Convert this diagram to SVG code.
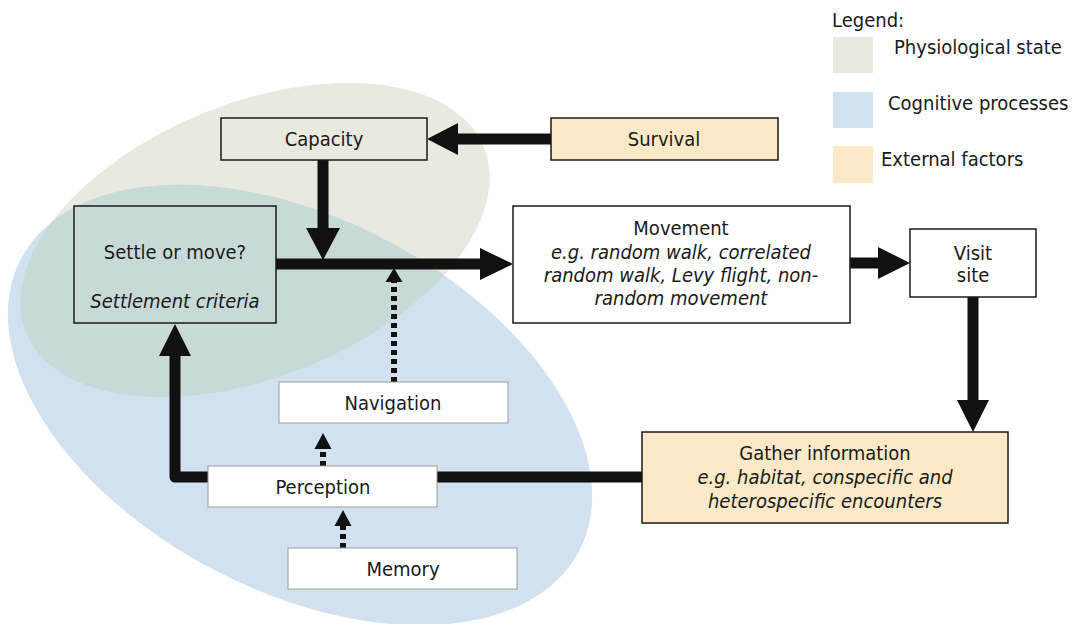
<svg xmlns="http://www.w3.org/2000/svg" width="1074" height="624" viewBox="0 0 1074 624">
  <style>
    text { font-family: "DejaVu Sans Condensed", "DejaVu Sans", sans-serif; font-size: 20px; fill: #1a1a1a; text-anchor: middle; dominant-baseline: central; }
    .it { font-style: italic; }
    .lg { text-anchor: start; }
    .box { stroke: #1a1a1a; stroke-width: 1.5; }
    .soft { fill: #ffffff; stroke: #9a9a9a; stroke-width: 1; }
    .thick { fill: none; stroke: #111; stroke-width: 11; }
    .dots { fill: none; stroke: #111; stroke-width: 6; stroke-dasharray: 5 4; }
    .head { fill: #111; }
  </style>
  <defs>
    <ellipse id="physio" cx="255" cy="240" rx="247" ry="137" transform="rotate(-22 255 240)"/>
    <clipPath id="clipBlue">
      <ellipse cx="300" cy="405" rx="315" ry="186" transform="rotate(27.6 300 405)"/>
    </clipPath>
  </defs>

  <!-- background regions: physiological state and cognitive processes -->
  <g id="regions">
    <use href="#physio" fill="#e8e9df"/>
    <ellipse cx="300" cy="405" rx="315" ry="186" transform="rotate(27.6 300 405)" fill="#d1e1f0"/>
    <use href="#physio" fill="#c8dad8" clip-path="url(#clipBlue)"/>
  </g>

  <!-- legend -->
  <g id="legend">
    <text class="lg" x="832" y="20">Legend:</text>
    <rect x="833" y="37" width="40" height="36" fill="#e8e9df"/>
    <text class="lg" x="894" y="47">Physiological state</text>
    <rect x="833" y="92" width="40" height="36" fill="#d1e1f0"/>
    <text class="lg" x="888" y="103">Cognitive processes</text>
    <rect x="833" y="146" width="40" height="37" fill="#fde9c7"/>
    <text class="lg" x="881" y="159">External factors</text>
  </g>

  <!-- connectors -->
  <g id="connectors">
    <!-- Survival to Capacity -->
    <line class="thick" x1="551" y1="139" x2="456" y2="139"/>
    <polygon class="head" points="427,139 458,123 458,155"/>
    <!-- Capacity down to main line -->
    <line class="thick" x1="323" y1="160" x2="323" y2="230"/>
    <polygon class="head" points="323,260 306,228 340,228"/>
    <!-- Settle to Movement -->
    <line class="thick" x1="276" y1="264" x2="482" y2="264"/>
    <polygon class="head" points="513,264 480,248 480,280"/>
    <!-- Movement to Visit site -->
    <line class="thick" x1="850" y1="263" x2="880" y2="263"/>
    <polygon class="head" points="910,263 878,247 878,279"/>
    <!-- Visit site to Gather information -->
    <line class="thick" x1="973" y1="297" x2="973" y2="402"/>
    <polygon class="head" points="973,432 957,400 989,400"/>
    <!-- Gather information back to Settle -->
    <path class="thick" d="M642 477 H175 V354" stroke-linejoin="round"/>
    <polygon class="head" points="175,324 159,356 191,356"/>
    <!-- Navigation to main line -->
    <line class="dots" x1="394" y1="382" x2="394" y2="281"/>
    <polygon class="head" points="394,268 385.5,282 402.5,282"/>
    <!-- Perception to Navigation -->
    <line class="dots" x1="323" y1="466" x2="323" y2="448"/>
    <polygon class="head" points="323,433 314.5,449 331.5,449"/>
    <!-- Memory to Perception -->
    <line class="dots" x1="343" y1="548" x2="343" y2="525"/>
    <polygon class="head" points="343,510 334.5,526 351.5,526"/>
  </g>

  <!-- nodes -->
  <g id="capacity">
    <rect class="box" x="221" y="118" width="206" height="42" fill="#e8e9df"/>
    <text x="324" y="139">Capacity</text>
  </g>
  <g id="survival">
    <rect class="box" x="551" y="118" width="227" height="42" fill="#fde9c7"/>
    <text x="664" y="139">Survival</text>
  </g>
  <g id="settle">
    <rect class="box" x="74" y="206" width="202" height="117" fill="none"/>
    <text x="175" y="252">Settle or move?</text>
    <text class="it" x="175" y="301">Settlement criteria</text>
  </g>
  <g id="movement">
    <rect class="box" x="513" y="206" width="337" height="117" fill="#ffffff"/>
    <text x="681" y="228">Movement</text>
    <text class="it" x="681" y="252">e.g. random walk, correlated</text>
    <text class="it" x="681" y="275">random walk, Levy flight, non-</text>
    <text class="it" x="681" y="298">random movement</text>
  </g>
  <g id="visit">
    <rect class="box" x="910" y="229" width="126" height="68" fill="#ffffff"/>
    <text x="973" y="253">Visit</text>
    <text x="973" y="275">site</text>
  </g>
  <g id="gather">
    <rect class="box" x="642" y="432" width="366" height="91" fill="#fde9c7"/>
    <text x="825" y="453">Gather information</text>
    <text class="it" x="825" y="477">e.g. habitat, conspecific and</text>
    <text class="it" x="825" y="501">heterospecific encounters</text>
  </g>
  <g id="navigation">
    <rect class="soft" x="279" y="382" width="229" height="41"/>
    <text x="393" y="403">Navigation</text>
  </g>
  <g id="perception">
    <rect class="soft" x="208" y="466" width="229" height="41"/>
    <text x="323" y="487">Perception</text>
  </g>
  <g id="memory">
    <rect class="soft" x="288" y="548" width="229" height="41"/>
    <text x="403" y="569">Memory</text>
  </g>
</svg>
